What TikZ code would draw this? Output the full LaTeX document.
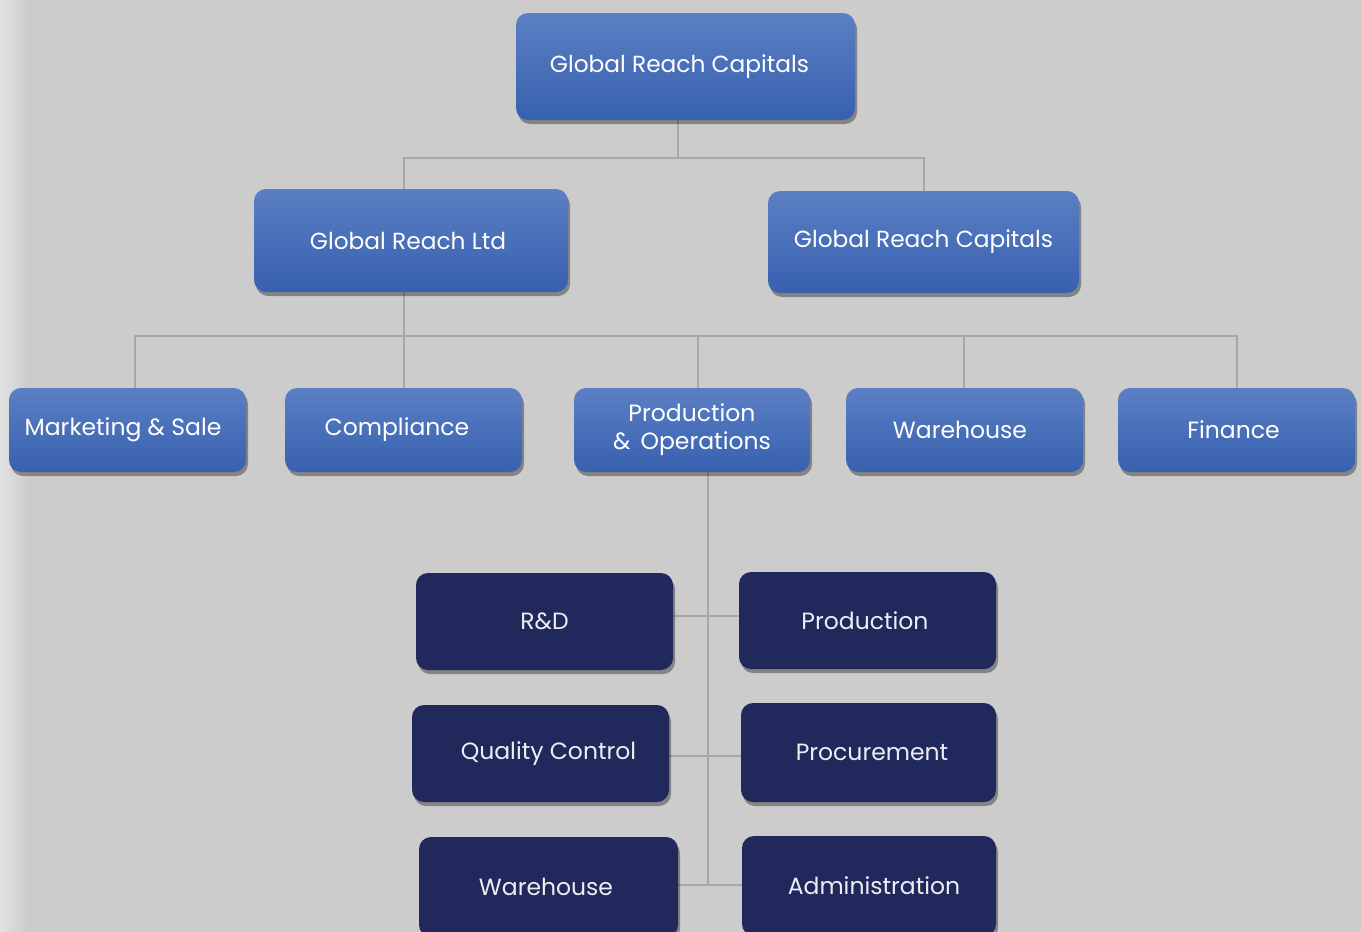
\documentclass[tikz,border=0pt]{standalone}
\usepackage{fontspec}
\setmainfont{Poppins}
\usetikzlibrary{shadows,backgrounds}
\definecolor{bgc}{HTML}{CCCCCC}
\definecolor{bgl}{HTML}{E2E2E2}
\definecolor{btop}{HTML}{5B7FC4}
\definecolor{bbot}{HTML}{3760AE}
\definecolor{navy}{HTML}{20285C}
\definecolor{linec}{HTML}{A8A8A8}
\newcommand{\shx}[2]{\hspace*{#1pt}#2}
\tikzset{
  base/.style={rectangle, rounded corners=12pt, inner sep=0pt, align=center,
    drop shadow={shadow xshift=2pt, shadow yshift=-4pt, opacity=0.35, fill=black}},
  bluebox/.style={base, top color=btop, bottom color=bbot, text=white},
  navybox/.style={base, fill=navy, text=white!92!navy},
  conn/.style={draw=linec, line width=2pt},
  big/.style={font=\fontsize{23.3}{27}\selectfont},
  mid/.style={font=\fontsize{23.5}{28}\selectfont},
}
\begin{document}
\begin{tikzpicture}[x=1pt,y=-1pt]
\useasboundingbox (0,0) rectangle (1361,932);
% nodes
\node[bluebox,big,minimum width=339pt,minimum height=107pt] (top) at (685.5,66.5) {\shx{-12}{Global Reach Capitals}};
\node[bluebox,big,minimum width=314pt,minimum height=103pt] (ltd) at (411,240.5) {\shx{-6}{Global Reach Ltd}};
\node[bluebox,big,minimum width=311pt,minimum height=102pt] (cap) at (923.5,242) {\raisebox{-2pt}{Global Reach Capitals}};
\node[bluebox,mid,minimum width=237pt,minimum height=84pt] (mk) at (127.5,430) {\raisebox{-2pt}{\shx{-9}{Marketing \& Sale}}};
\node[bluebox,mid,minimum width=237pt,minimum height=84pt] (co) at (403.5,430) {\raisebox{-2pt}{\shx{-13}{Compliance}}};
\node[bluebox,mid,minimum width=236pt,minimum height=84pt] (po) at (692,430) {Production\\\& \,Operations};
\node[bluebox,mid,minimum width=237pt,minimum height=84pt] (wh) at (964.5,430) {\shx{-9}{Warehouse}};
\node[bluebox,mid,minimum width=237pt,minimum height=84pt] (fi) at (1236.5,430) {\shx{-6}{Finance}};
\node[navybox,mid,minimum width=257pt,minimum height=97pt] (rd) at (544.5,621.5) {\raisebox{-1pt}{R\&D}};
\node[navybox,mid,minimum width=257pt,minimum height=97pt] (pr) at (867.5,620.5) {\shx{-5}{Production}};
\node[navybox,mid,minimum width=257pt,minimum height=97pt] (qc) at (540.5,753.5) {\raisebox{-2pt}{\shx{16}{Quality Control}}};
\node[navybox,mid,minimum width=255pt,minimum height=99pt] (pc) at (868.5,752.5) {\shx{7}{Procurement}};
\node[navybox,mid,minimum width=259pt,minimum height=100pt] (wh2) at (548.5,887) {\shx{-5}{Warehouse}};
\node[navybox,mid,minimum width=254pt,minimum height=100pt] (ad) at (869,886) {\shx{10}{Administration}};
% junctions
\coordinate (j1) at (678,158);
\coordinate (j2) at (404,336);
\coordinate (jv) at (708,885);
\begin{scope}[on background layer]
\fill[bgc] (0,0) rectangle (1361,932);
\shade[left color=bgl, right color=bgc] (0,0) rectangle (28,932);
% level 1 -> 2
\draw[conn] (top.south -| j1) -- (j1);
\draw[conn] (ltd.north -| 404,0) |- (j1) -| (cap.north -| 924,0);
% level 2 -> 3
\draw[conn] (ltd.south -| j2) -- (j2);
\draw[conn] (mk.north -| 135,0) |- (j2);
\draw[conn] (j2) -- (co.north -| j2);
\draw[conn] (j2) -| (fi.north -| 1237,0);
\draw[conn] (po.north -| 698,0) -- (698,336);
\draw[conn] (wh.north -| 964,0) -- (964,336);
% level 3 -> 4
\draw[conn] (po.south -| jv) -- (jv);
\draw[conn] (rd.east |- 0,616) -- (pr.west |- 0,616);
\draw[conn] (qc.east |- 0,756) -- (pc.west |- 0,756);
\draw[conn] (wh2.east |- jv) -- (ad.west |- jv);
\end{scope}
\end{tikzpicture}
\end{document}
